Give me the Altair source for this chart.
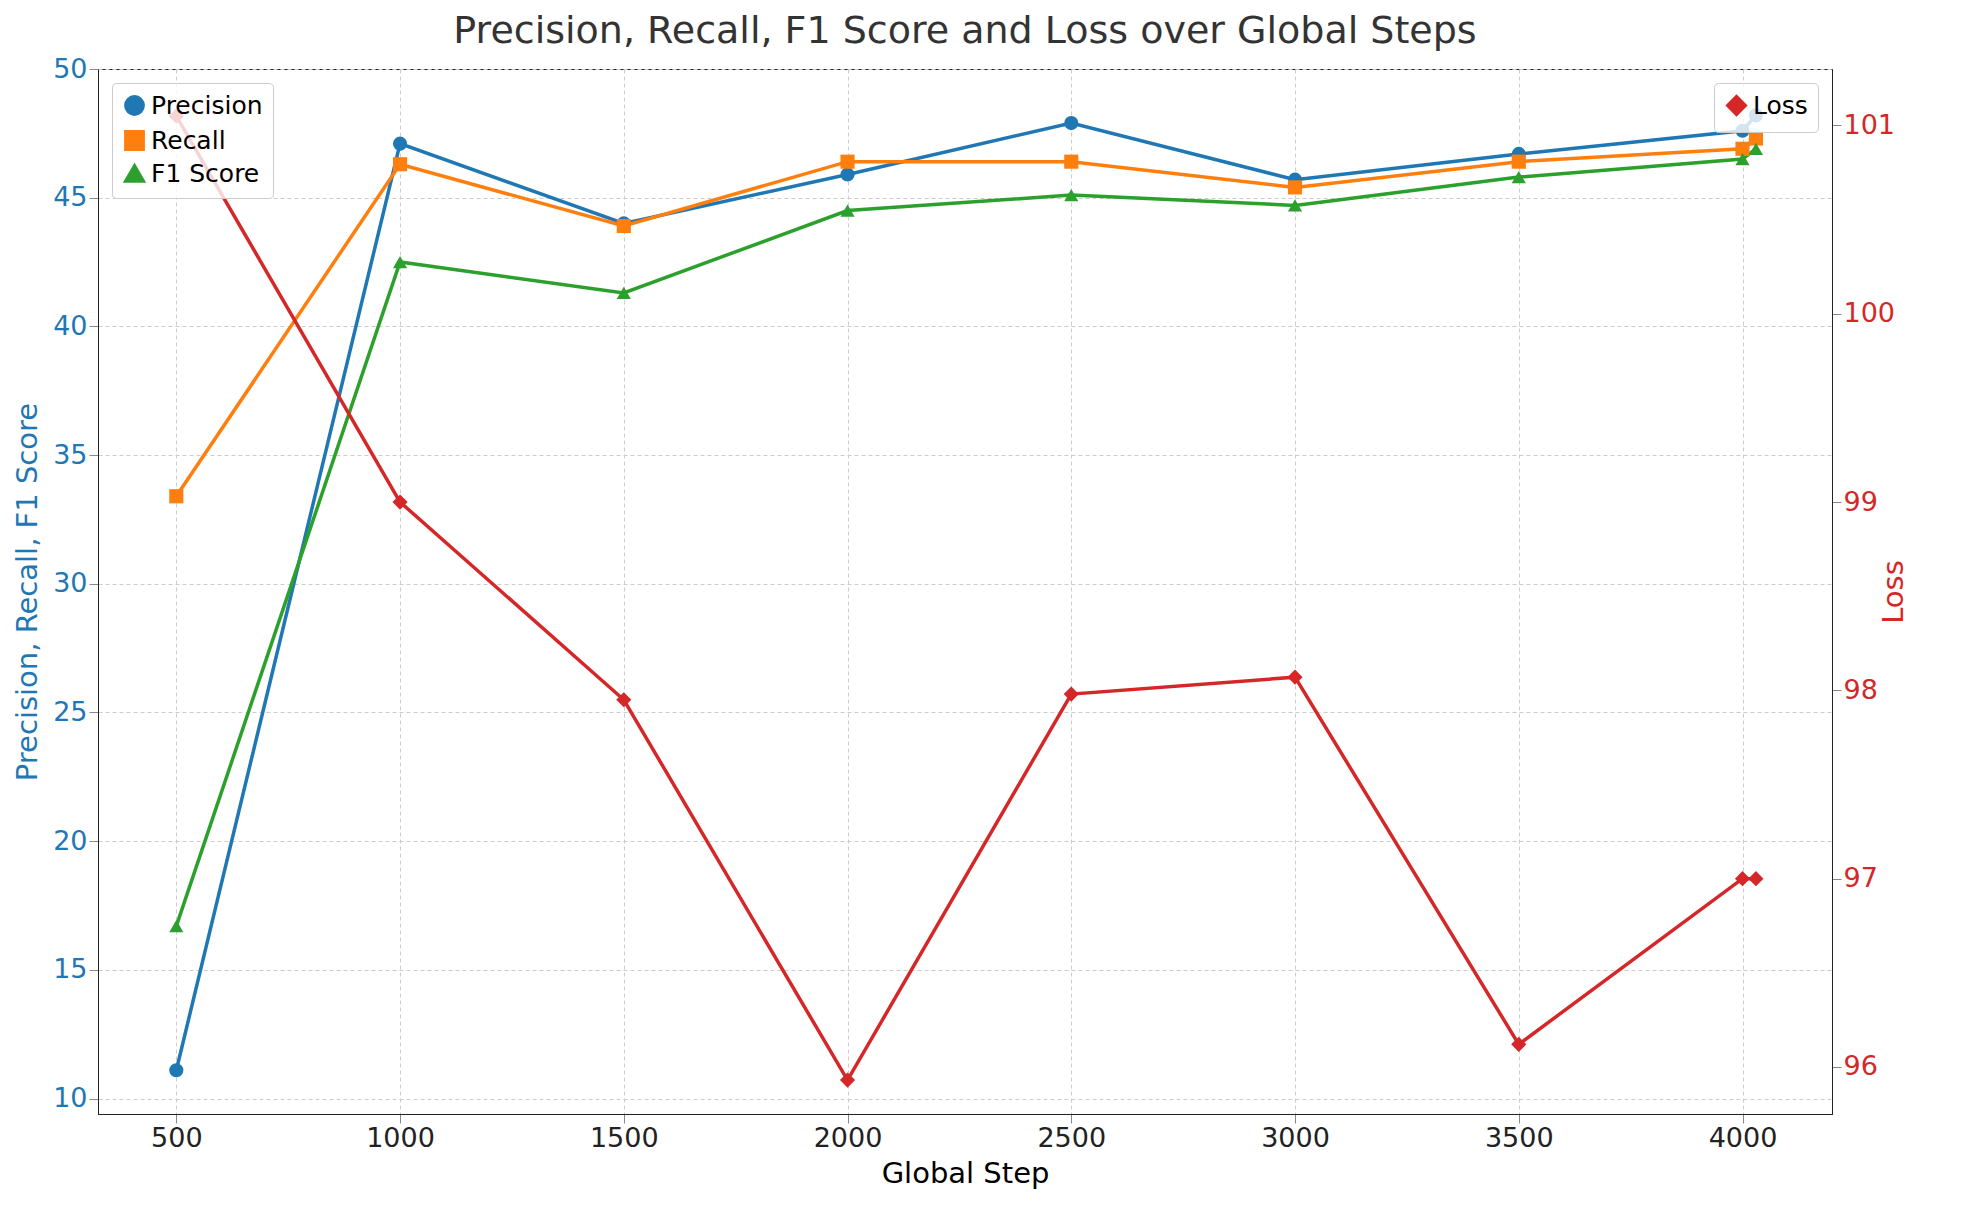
import pandas as pd
import altair as alt

steps = [500, 1000, 1500, 2000, 2500, 3000, 3500, 4000, 4030]
precision = [11.1, 47.1, 44.0, 45.9, 47.9, 45.7, 46.7, 47.6, 48.2]
recall = [33.4, 46.3, 43.9, 46.4, 46.4, 45.4, 46.4, 46.9, 47.3]
f1 = [16.7, 42.5, 41.3, 44.5, 45.1, 44.7, 45.8, 46.5, 46.9]
loss = [101.05, 99.0, 97.95, 95.93, 97.98, 98.07, 96.12, 97.0, 97.0]

metrics = ['Precision', 'Recall', 'F1 Score']
df = pd.DataFrame({'step': steps * 3,
                   'value': precision + recall + f1,
                   'metric': [m for m in metrics for _ in steps]})
df_loss = pd.DataFrame({'step': steps, 'loss': loss, 'series': 'Loss'})

font = 'DejaVu Sans'
x = alt.X('step:Q', title='Global Step', scale=alt.Scale(domain=[325, 4200], nice=False),
          axis=alt.Axis(values=[500, 1000, 1500, 2000, 2500, 3000, 3500, 4000], format='d',
                        labelFontSize=27, titleFontSize=29, titleFontWeight='normal',
                        gridDash=[4, 3], gridColor='#cccccc', tickSize=9, labelColor='#222',
                        domainColor='#222', labelFont=font, titleFont=font, titlePadding=8))

left = alt.Chart(df).mark_line(strokeWidth=3.5, point=alt.OverlayMarkDef(size=200, filled=True)).encode(
    x=x,
    y=alt.Y('value:Q', title='Precision, Recall, F1 Score',
            scale=alt.Scale(domain=[9.4, 50], nice=False, zero=False),
            axis=alt.Axis(values=list(range(10, 51, 5)), labelFontSize=27, titleFontSize=29,
                          titleFontWeight='normal', labelColor='#1f77b4', titleColor='#1f77b4',
                          gridDash=[4, 3], gridColor='#cccccc', tickSize=9, labelFont=font,
                          titleFont=font, domainColor='#222', titlePadding=10)),
    color=alt.Color('metric:N', sort=metrics,
                    scale=alt.Scale(domain=metrics, range=['#1f77b4', '#ff7f0e', '#2ca02c']),
                    legend=alt.Legend(title=None, orient='top-left', labelFontSize=25, labelFont=font,
                                      symbolStrokeWidth=3.5, symbolSize=300, strokeColor='#ccc',
                                      fillColor='rgba(255,255,255,0.8)', padding=10, cornerRadius=4,
                                      offset=14)),
    shape=alt.Shape('metric:N', sort=metrics,
                    scale=alt.Scale(domain=metrics, range=['circle', 'square', 'triangle-up']),
                    legend=None)
)

right = alt.Chart(df_loss).mark_line(strokeWidth=3.5, point=alt.OverlayMarkDef(shape='diamond', size=230, filled=True)).encode(
    x=x,
    y=alt.Y('loss:Q', title='Loss', scale=alt.Scale(domain=[95.75, 101.3], nice=False, zero=False),
            axis=alt.Axis(orient='right', values=[96, 97, 98, 99, 100, 101], labelFontSize=27,
                          titleFontSize=29, titleFontWeight='normal', labelColor='#d62728',
                          titleColor='#d62728', gridDash=[4, 3], gridColor='#cccccc', tickSize=9,
                          labelFont=font, titleFont=font, domainColor='#222', titleAngle=270,
                          titlePadding=14)),
    color=alt.Color('series:N', scale=alt.Scale(domain=['Loss'], range=['#d62728']),
                    legend=alt.Legend(title=None, orient='top-right', labelFontSize=25, labelFont=font,
                                      symbolType='diamond', symbolStrokeWidth=3.5, symbolSize=300,
                                      strokeColor='#ccc', fillColor='rgba(255,255,255,0.8)',
                                      padding=10, cornerRadius=4, offset=14))
)

chart = alt.layer(left, right).resolve_scale(y='independent', color='independent', shape='independent').properties(
    width=1734, height=1045,
    title=alt.TitleParams('Precision, Recall, F1 Score and Loss over Global Steps', fontSize=38,
                          fontWeight='normal', font=font, color='#333')
).configure_view(stroke='#222')

chart.save("out.html", embed_options={"renderer": "svg", "actions": False})
